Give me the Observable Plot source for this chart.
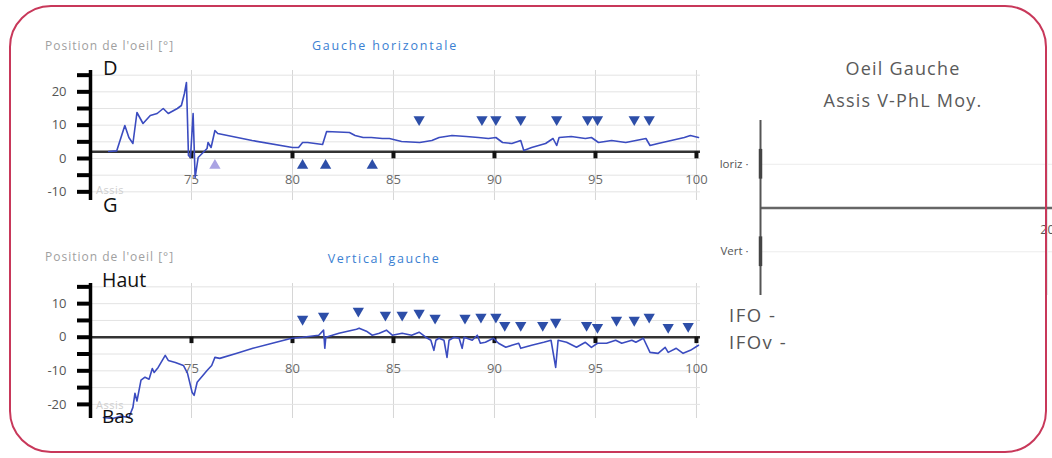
<!DOCTYPE html>
<html><head><meta charset="utf-8">
<script src="https://cdn.jsdelivr.net/npm/d3@7"></script>
<script src="https://cdn.jsdelivr.net/npm/@observablehq/plot@0.6"></script>
<style>
body{margin:0;background:#fff;}
#root{position:relative;width:1052px;height:458px;overflow:hidden;background:#fff;font-family:"Open Sans",sans-serif;}
.abs{position:absolute;white-space:nowrap;line-height:1;}
#border{position:absolute;left:9px;top:5px;width:1034px;height:444px;border:2px solid #c8385a;border-radius:42px;pointer-events:none;z-index:5;}
</style></head>
<body><div id="root"><div id="border"></div></div>
<script>
// ---------- data ----------
const xTicks = [75, 80, 85, 90, 95, 100];
const yTicksTop = [-10, -5, 0, 5, 10, 15, 20, 25];
const yTicksBottom = [-20, -15, -10, -5, 0, 5, 10, 15];

// horizontal (top) trace
const hTime = [70.9,71.3,71.7,71.9,72.1,72.3,72.6,72.96,73.3,73.6,73.85,74.3,74.5,74.65,74.75,74.85,74.95,75.08,75.18,75.33,75.77,75.82,75.97,76.16,76.3,78.0,80.0,80.3,80.5,80.75,81.49,81.69,82.82,83.1,83.5,83.9,84.45,84.8,85.4,86.3,86.9,87.26,87.9,88.6,89.2,89.7,90.07,90.4,90.86,91.3,91.45,91.84,92.53,92.9,93.08,93.2,93.8,94.5,94.8,95.15,95.8,96.5,97.0,97.5,97.7,98.1,98.75,99.4,99.7,100.1];
const hPos  = [2.1,2.3,9.9,6.3,4.5,13.8,10.5,12.9,13.5,15.0,13.5,15.0,15.9,19.5,22.8,0.9,0.3,13.5,-5.7,0.3,3.0,4.8,3.3,8.4,7.5,5.4,3.3,3.3,4.8,4.8,4.2,8.1,7.8,6.9,6.3,6.3,6.0,6.0,5.1,4.8,5.4,6.3,6.9,6.6,6.3,6.0,6.3,4.8,4.5,5.4,2.4,3.3,4.5,6.0,3.9,6.3,6.6,6.0,6.3,4.8,5.4,4.8,5.4,6.0,3.9,4.5,5.4,6.3,6.9,6.3];

// vertical (bottom) trace
const vTime = [70.64,71.1,71.5,71.9,72.1,72.2,72.3,72.5,72.7,72.9,73.06,73.15,73.35,73.7,73.85,74.2,74.6,74.8,75.03,75.13,75.28,75.77,76.0,76.16,76.4,77.25,78.04,79.0,79.96,80.5,81.3,81.54,81.6,81.65,82.3,83.17,83.3,83.66,83.95,84.3,84.65,84.94,85.43,85.9,86.27,86.6,86.85,87.0,87.1,87.25,87.5,87.65,87.75,88.0,88.25,88.4,88.5,88.9,89.15,89.3,89.55,89.95,90.2,90.56,90.86,91.2,91.3,91.84,92.44,92.8,93.03,93.15,93.57,94.06,94.5,94.8,95.1,95.55,96.0,96.3,96.8,97.0,97.37,97.7,98.1,98.45,98.6,99.0,99.34,99.7,100.1];
const vPos  = [-23.9,-24.2,-23.5,-23.9,-20.9,-16.7,-19.0,-12.8,-11.9,-12.5,-9.3,-10.5,-9.0,-5.4,-6.9,-7.5,-8.4,-10.7,-16.4,-17.3,-13.4,-9.9,-8.4,-6.0,-6.3,-4.8,-3.3,-1.8,-0.3,0,0.6,2.1,-3.3,0,1.2,2.4,2.7,1.8,0.6,1.2,2.1,0.6,1.2,0.6,1.5,0,-0.9,-3.9,-0.9,-0.3,-0.9,-6.0,-0.9,0,-0.3,-3.3,0,-0.9,0.6,-1.8,-1.5,-0.3,-1.8,-3.0,-2.4,-1.8,-3.3,-2.4,-1.5,-0.9,-9.0,-0.9,-1.5,-3.0,-1.5,-3.0,-1.8,-1.8,-0.9,-1.8,-0.9,-1.5,-0.3,-4.5,-4.8,-3.0,-4.5,-3.3,-4.8,-3.9,-2.4];

// markers (top chart)
const hDownTime = [86.27,89.38,90.07,91.30,93.08,94.61,95.10,96.92,97.66];
const hDownPos  = [11.7,11.7,11.7,11.7,11.7,11.7,11.7,11.7,11.7];
const hUpTime = [76.16,80.50,81.64,83.95];
const hUpPos  = [-2.1,-2.1,-2.1,-2.1];
const hUpFaint = [true,false,false,false];

// markers (bottom chart)
const vDownTime = [80.50,81.54,83.26,84.60,85.43,86.27,87.06,88.54,89.33,90.07,90.51,91.30,92.39,93.03,94.56,95.10,96.04,96.92,97.66,98.60,99.59];
const vDownPos  = [5.4,6.3,7.8,6.6,6.6,7.2,5.7,5.7,6.0,6.0,3.6,3.6,3.6,4.5,3.6,3.0,5.1,5.1,6.0,3.0,3.3];

const hAxisLevel = 2;   // level of the black time axis in the top chart
const vAxisLevel = 0;

// right panel
const rightRows = ["loriz", "Vert"];
const rightXTicks = [20];

// ---------- build ----------
const root = document.getElementById("root");
const font = '"Open Sans", sans-serif';
const lineColor = "#3b4cc0";
const markColor = "#2d4ea8";

const hLine = hTime.map((t, i) => ({t, v: hPos[i]}));
const vLine = vTime.map((t, i) => ({t, v: vPos[i]}));
const hDown = hDownTime.map((t, i) => ({t, v: hDownPos[i]}));
const hUp = hUpTime.map((t, i) => ({t, v: hUpPos[i], faint: hUpFaint[i]}));
const vDown = vDownTime.map((t, i) => ({t, v: vDownPos[i]}));

function tracePlot({height, marginTop, marginBottom, yDomain, yTicks, axisLevel, line, marks, tickLen, labelDy}) {
  return Plot.plot({
    width: 720, height, marginLeft: 90, marginRight: 20, marginTop, marginBottom,
    x: {domain: [70, 100.2], axis: null},
    y: {domain: yDomain},
    style: {background: "transparent", fontFamily: font, overflow: "visible"},
    marks: [
      Plot.gridX(xTicks, {stroke: "#d6d6d6", strokeOpacity: 1, strokeWidth: 1}),
      Plot.gridY(yTicks, {stroke: "#e3e3e3", strokeOpacity: 1, strokeWidth: 1}),
      Plot.ruleY([axisLevel], {x1: 70, x2: 100.2, stroke: "#333", strokeWidth: 2.5}),
      Plot.ruleX(xTicks, {y1: axisLevel, y2: axisLevel - tickLen, stroke: "#111", strokeWidth: 4}),
      Plot.text(xTicks, {x: d => d, frameAnchor: "top", dy: labelDy, text: d => String(d), fill: "#6a6a6a", fontSize: 13}),
      Plot.ruleX([70], {stroke: "#000", strokeWidth: 3.5}),
      Plot.axisY(yTicks, {tickSize: 13, stroke: "#000", strokeWidth: 4, fill: "#555", fontSize: 13,
        tickPadding: 11, tickFormat: d => d % 10 === 0 ? String(d) : "", label: null}),
      Plot.line(line, {x: "t", y: "v", stroke: lineColor, strokeWidth: 1.6}),
      ...marks
    ]
  });
}

const topPlot = tracePlot({
  height: 225, marginTop: 70, marginBottom: 25, yDomain: [-12.6, 26.4], yTicks: yTicksTop,
  axisLevel: hAxisLevel, line: hLine, tickLen: 2.1, labelDy: 104,
  marks: [
    Plot.dot(hDown, {x: "t", y: "v", symbol: "triangle", rotate: 180, r: 4.2, fill: markColor, stroke: "none"}),
    Plot.dot(hUp, {x: "t", y: "v", symbol: "triangle", r: 4.2, fill: d => d.faint ? "#aaa3e3" : markColor, stroke: "none"})
  ]
});
const bottomPlot = tracePlot({
  height: 233, marginTop: 58, marginBottom: 40, yDomain: [-24.2, 16], yTicks: yTicksBottom,
  axisLevel: vAxisLevel, line: vLine, tickLen: 1.9, labelDy: 80,
  marks: [
    Plot.dot(vDown, {x: "t", y: "v", symbol: "triangle", rotate: 180, r: 4.2, fill: markColor, stroke: "none"})
  ]
});

function place(el, left, top) {
  el.style.position = "absolute"; el.style.left = left + "px"; el.style.top = top + "px";
  root.appendChild(el);
}
place(topPlot, 0, 0);
place(bottomPlot, 0, 225);

// right panel
const rightPlot = Plot.plot({
  width: 352, height: 458, marginLeft: 60, marginRight: 0, marginTop: 120, marginBottom: 163,
  x: {domain: [0, 20.35], axis: null},
  y: {domain: [0, 2], axis: null},
  style: {background: "transparent", fontFamily: font, overflow: "visible"},
  marks: [
    Plot.gridY(rightRows.map((d, i) => 1.5 - i), {stroke: "#ececec", strokeOpacity: 1}),
    Plot.gridX(rightXTicks, {stroke: "#e6e6e6", strokeOpacity: 1}),
    Plot.ruleY([1], {stroke: "#666", strokeWidth: 2.5}),
    Plot.ruleX([0], {stroke: "#555", strokeWidth: 2}),
    Plot.ruleX(rightRows, {x: 0, y1: (d, i) => 1.5 - i - 0.17, y2: (d, i) => 1.5 - i + 0.17, stroke: "#444", strokeWidth: 3.5}),
    Plot.text(rightRows, {x: 0, y: (d, i) => 1.5 - i, text: d => d + " ·", textAnchor: "end", dx: -12, fill: "#555", fontSize: 11.5}),
    Plot.text(rightXTicks, {x: d => d, y: 1, dy: 22, text: d => String(d), fill: "#555", fontSize: 12.5})
  ]
});
place(rightPlot, 700, 0);

// texts
function txt(s, left, top, style) {
  const d = document.createElement("div");
  d.className = "abs"; d.textContent = s;
  d.style.left = left + "px"; d.style.top = top + "px";
  Object.assign(d.style, style || {});
  root.appendChild(d);
  return d;
}
const grey = {color: "#a0a0a0", fontSize: "12px", letterSpacing: "1px"};
const blue = {color: "#3a80d2", fontSize: "12.5px", width: "220px", textAlign: "center"};
txt("Position de l'oeil [°]", 45, 40, grey);
txt("Gauche horizontale", 275, 40, Object.assign({letterSpacing: "1.8px"}, blue));
txt("Position de l'oeil [°]", 45, 251, grey);
txt("Vertical gauche", 274, 253, Object.assign({letterSpacing: "1.6px"}, blue));
const big = {color: "#111", fontSize: "20px"};
txt("D", 103, 58, big);
txt("G", 103, 195, big);
txt("Haut", 102, 270, {color: "#111", fontSize: "19.5px"});
txt("Bas", 102, 407, {color: "#111", fontSize: "19px"});
const faint = {color: "#cfcfcf", fontSize: "11px", letterSpacing: "0.5px"};
txt("Assis", 96, 184, faint);
txt("Assis", 96, 399, faint);
const head = {color: "#5a5a5a", fontSize: "18px", letterSpacing: "1.2px", width: "300px", textAlign: "center"};
txt("Oeil Gauche", 753, 59, head);
txt("Assis V-PhL Moy.", 753, 91, head);
const ifo = {color: "#555", fontSize: "18.5px", letterSpacing: "1.5px"};
txt("IFO -", 729, 306, ifo);
txt("IFOv -", 729, 333, ifo);
</script></body></html>
